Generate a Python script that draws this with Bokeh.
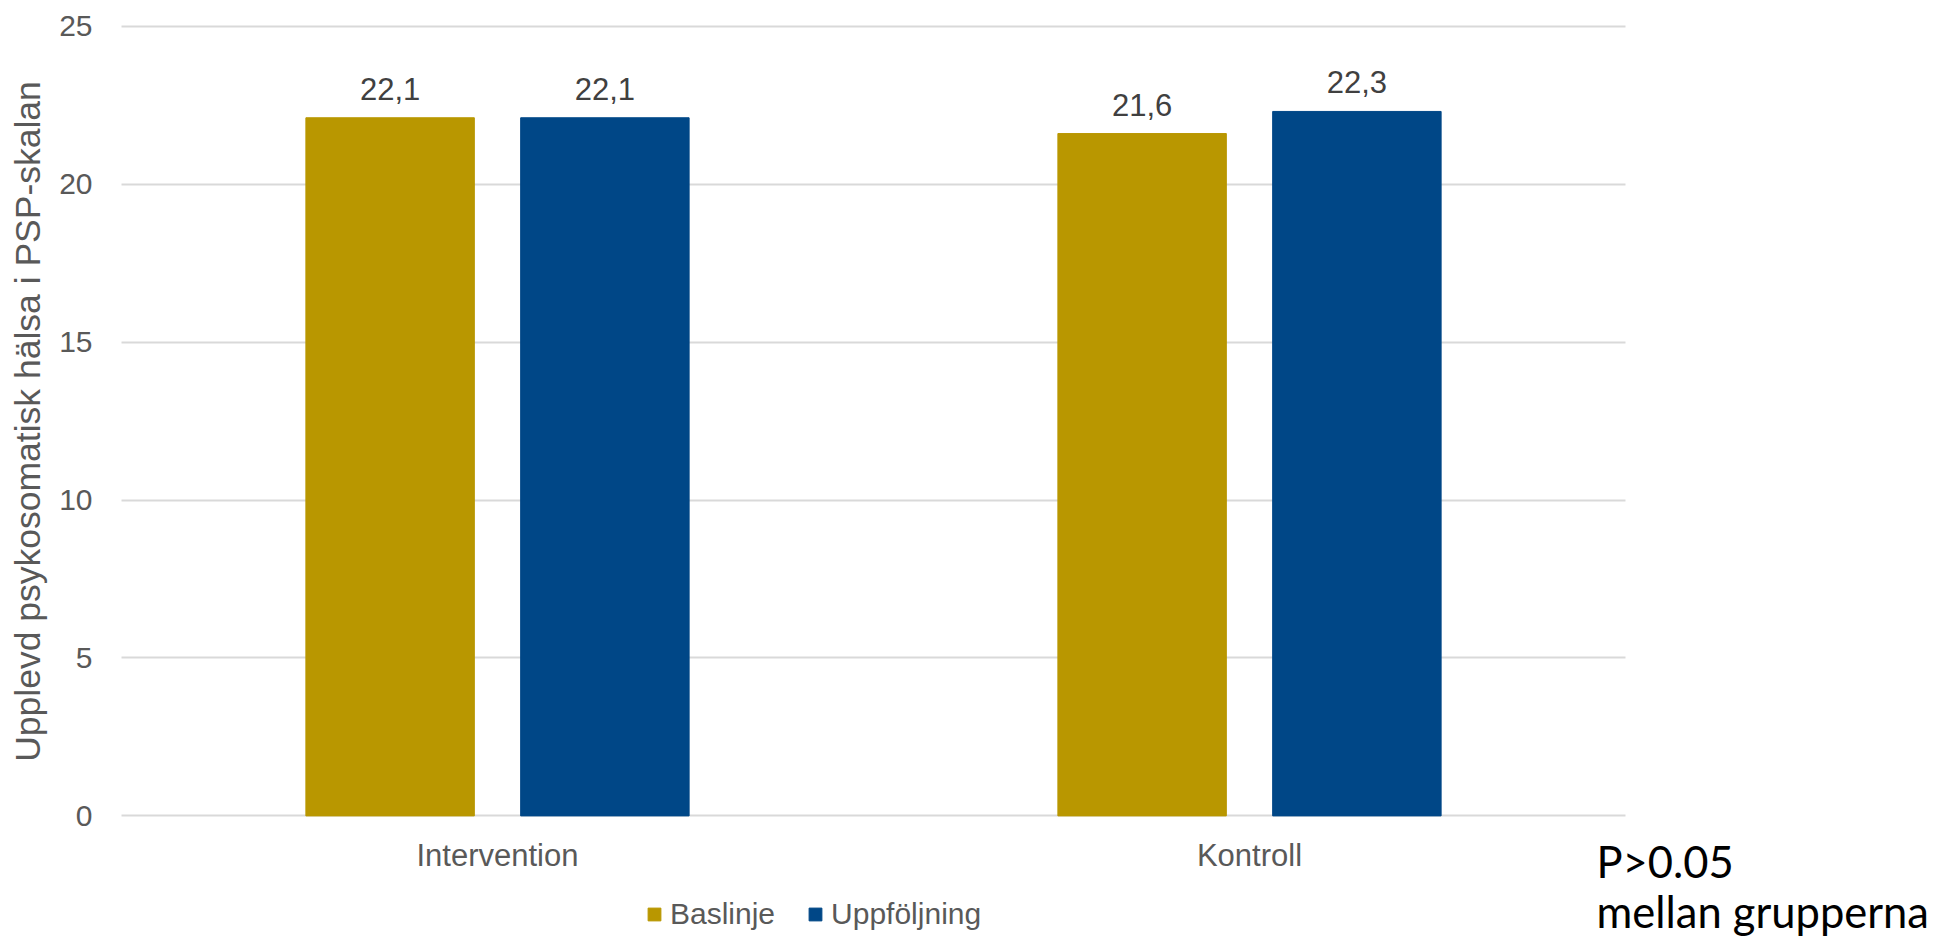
from bokeh.plotting import figure
from bokeh.models import (ColumnDataSource, Range1d, FixedTicker,
                          Legend, LegendItem, LabelSet, Label)
from bokeh.core.properties import value
from bokeh.embed import file_html
from bokeh.resources import INLINE
import math

# Grupper och mätvärden (medelvärde på PSP-skalan)
groups = ["Intervention", "Kontroll"]
baslinje = [22.1, 21.6]
uppfoljning = [22.1, 22.3]
y_ticks = [0, 5, 10, 15, 20, 25]

GOLD = "#B99700"
BLUE = "#004787"
GREY_TXT = "#595959"
LABEL_TXT = "#404040"
FONT = "Liberation Sans"

W_PX, H_PX = 1949, 943
LEFT_PX, CAT_PX = 121, 752          # plotytans vänsterkant, bredd per grupp
ZERO_PX, UNIT_PX = 815.4, 31.59     # nollnivå och pixlar per skalsteg

OFF = 0.1428   # förskjutning av staplar från gruppens mitt
W = 0.224      # stapelbredd (andel av grupp)

fmt = lambda v: f"{v:.1f}".replace(".", ",")
centers = [i + 0.5 for i in range(len(groups))]

src = ColumnDataSource(dict(
    x_bas=[c - OFF for c in centers],
    x_upp=[c + OFF for c in centers],
    bas=baslinje,
    upp=uppfoljning,
    bas_lbl=[fmt(v) for v in baslinje],
    upp_lbl=[fmt(v) for v in uppfoljning],
))

x_range = Range1d(-LEFT_PX / CAT_PX, (W_PX - LEFT_PX) / CAT_PX)
y_range = Range1d(-(H_PX - ZERO_PX) / UNIT_PX, ZERO_PX / UNIT_PX)

p = figure(
    x_range=x_range, y_range=y_range,
    width=W_PX, height=H_PX,
    min_border=0, min_border_left=0, min_border_right=0,
    min_border_top=0, min_border_bottom=0,
    title=None,
    output_backend="svg", toolbar_location=None,
    background_fill_color="white", border_fill_color="white",
)
p.outline_line_color = None

r_bas = p.vbar(x="x_bas", top="bas", width=W, source=src,
               fill_color=GOLD, line_color=GOLD)
r_upp = p.vbar(x="x_upp", top="upp", width=W, source=src,
               fill_color=BLUE, line_color=BLUE)

# värdeetiketter ovanför staplarna
for xf, field, lbl in (("x_bas", "bas", "bas_lbl"), ("x_upp", "upp", "upp_lbl")):
    p.add_layout(LabelSet(
        x=xf, y=field, text=lbl, source=src,
        y_offset=18, text_align="center", text_baseline="alphabetic",
        text_font=value(FONT), text_font_size=value("31px"), text_color=LABEL_TXT,
    ))

# y-axel vid plotytans vänsterkant
ya = p.yaxis[0]
ya.fixed_location = 0
ya.ticker = FixedTicker(ticks=y_ticks)
ya.axis_line_color = None
ya.major_tick_line_color = None
ya.minor_tick_line_color = None
ya.major_tick_out = 0
ya.major_tick_in = 0
ya.major_label_standoff = 29
ya.major_label_text_font = FONT
ya.major_label_text_font_size = "30px"
ya.major_label_text_color = GREY_TXT

# x-axel vid nollnivån, gruppnamn som etiketter
xa = p.xaxis[0]
xa.fixed_location = 0
xa.ticker = FixedTicker(ticks=centers)
xa.major_label_overrides = {c: g for c, g in zip(centers, groups)}
xa.axis_line_color = None
xa.major_tick_line_color = None
xa.minor_tick_line_color = None
xa.major_tick_out = 0
xa.major_tick_in = 0
xa.major_label_standoff = 22
xa.major_label_text_font = FONT
xa.major_label_text_font_size = "31px"
xa.major_label_text_color = GREY_TXT

p.xgrid.grid_line_color = None
p.ygrid.grid_line_color = "#D9D9D9"
p.ygrid.grid_line_width = 2
p.ygrid.cross_bounds = (0, len(groups))

# y-axelns rubrik
p.add_layout(Label(
    x=27, y=H_PX - 421, x_units="screen", y_units="screen",
    text="Upplevd psykosomatisk hälsa i PSP-skalan", angle=math.pi / 2,
    text_align="center", text_baseline="alphabetic",
    text_font=FONT, text_font_size="35.5px", text_color=GREY_TXT,
))

legend = Legend(
    items=[LegendItem(label="Baslinje", renderers=[r_bas]),
           LegendItem(label="Uppföljning", renderers=[r_upp])],
    orientation="horizontal", location=(646, H_PX - 931),
    glyph_width=16, glyph_height=16, label_standoff=8, spacing=32,
    padding=0, margin=0, border_line_color=None, background_fill_alpha=0,
    label_text_font=FONT, label_text_font_size="30px", label_text_color=GREY_TXT,
)
p.add_layout(legend, "center")

# signifikansnotis
for txt, base in (("P>0.05", 860), ("mellan grupperna", 910)):
    p.add_layout(Label(x=1596, y=H_PX - base, x_units="screen", y_units="screen",
                       text=txt, text_font="Lato", text_font_size="43.5px",
                       text_color="black", text_baseline="alphabetic"))

open("out.html", "w").write(file_html(p, INLINE))
